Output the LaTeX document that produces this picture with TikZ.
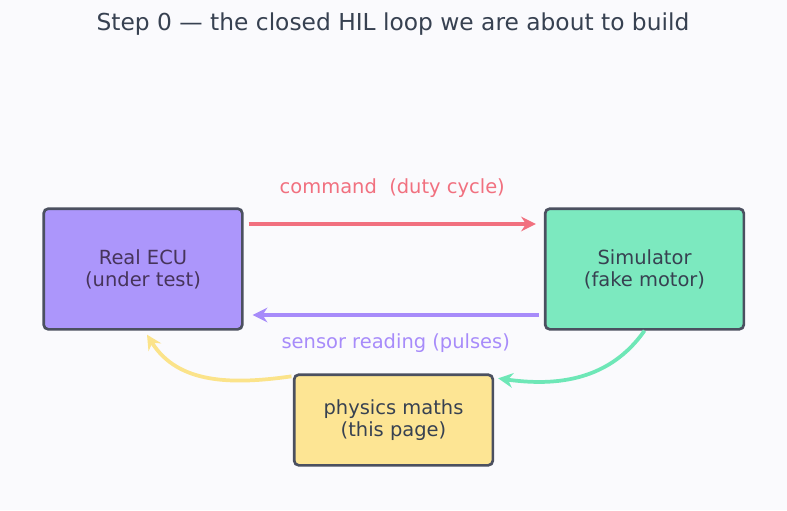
\documentclass[tikz,border=0pt]{standalone}
\usepackage{fontspec}
\setmainfont{DejaVu Sans}
\usetikzlibrary{arrows.meta,positioning}

\definecolor{bgcol}{HTML}{FAFAFD}
\definecolor{edgecol}{HTML}{4B5060}
\definecolor{titlecol}{HTML}{374151}
\definecolor{ecucol}{HTML}{AC96FB}
\definecolor{simcol}{HTML}{7CE9BF}
\definecolor{physcol}{HTML}{FDE594}
\definecolor{cmdcol}{HTML}{F1707F}
\definecolor{sensecol}{HTML}{A78BFA}
\definecolor{loopgreen}{HTML}{6EE7B7}
\definecolor{loopyellow}{HTML}{FBE38A}

\tikzset{
  block/.style={draw=edgecol, line width=2pt, rounded corners=3.5pt,
    minimum width=149pt, minimum height=90.5pt, align=center,
    font=\fontsize{14.6}{16.5}\selectfont},
  flow/.style={line width=2.8pt, -{Stealth[length=11pt,width=11pt]}},
  flowlabel/.style={font=\fontsize{14.6}{16.5}\selectfont}
}

\begin{document}
\begin{tikzpicture}[x=0.75pt, y=-0.75pt]
            % Background and page size
            \fill[bgcol] (0,0) rectangle (787,510);
            \useasboundingbox (0,0) rectangle (787,510);

            % Title
            \node[text=titlecol, font=\fontsize{17.5}{20}\selectfont] (title) at (393,24)
                {Step 0 — the closed HIL loop we are about to build};

            % Blocks
            \node[block, fill=ecucol, text=titlecol!80!violet] (ecu) at (143,269) {Real ECU\\(under test)};
            \node[block, fill=simcol, text=titlecol] (sim) at (644.5,269) {Simulator\\(fake motor)};
            \node[block, fill=physcol, text=titlecol, minimum height=68pt] (phys) at (393.5,420)
                {physics maths\\(this page)};

            % Command: ECU -> simulator
            \draw[flow, cmdcol] ([xshift=3.75pt,yshift=33.75pt]ecu.east) -- ([xshift=-6pt,yshift=33.75pt]sim.west)
                node[midway, yshift=27pt, flowlabel, text=cmdcol] (cmdlabel) {command\ \ (duty cycle)};

            % Sensor reading: simulator -> ECU
            \draw[flow, sensecol] ([xshift=-3.75pt,yshift=-34.5pt]sim.west) -- ([xshift=6.75pt,yshift=-34.5pt]ecu.east)
                node[midway, yshift=-21pt, flowlabel, text=sensecol] (senselabel) {sensor reading (pulses)};

            % Loop through the physics maths
            \draw[flow, loopgreen] (sim.south) to[out=235, in=-8] ([xshift=3pt,yshift=-3.75pt]phys.north east);
            \draw[flow, loopyellow] ([xshift=-1pt,yshift=-2.25pt]phys.north west) to[out=188, in=-58] ([xshift=3pt,yshift=-3pt]ecu.south);

        \end{tikzpicture}
\end{document}
